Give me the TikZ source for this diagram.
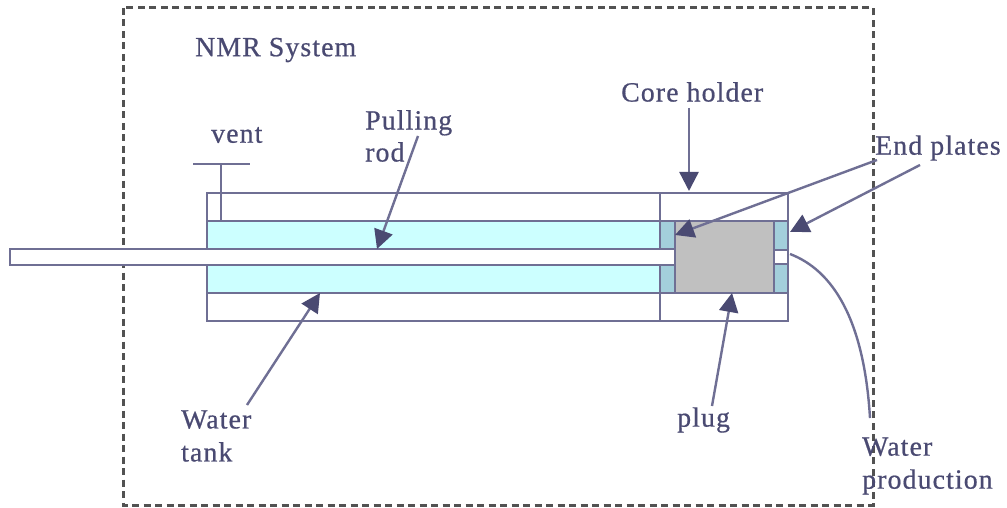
\documentclass[tikz,border=0pt]{standalone}
\usepackage{fontspec}
\setmainfont[LetterSpace=4,FakeBold=0.6]{Liberation Serif}
\usetikzlibrary{arrows.meta}
\definecolor{ink}{HTML}{4A4A72}
\definecolor{wall}{HTML}{6F6F94}
\definecolor{tankblue}{HTML}{CCFFFF}
\definecolor{plateblue}{HTML}{A3CFDB}
\definecolor{pluggray}{HTML}{C0C0C0}
\tikzset{
  part/.style={draw=wall,line width=2.8pt},
  lbl/.style={text=ink,font=\fontsize{27.8}{33}\selectfont,inner sep=0pt,align=left,anchor=west},
  pointer/.style={draw=wall,line width=2.4pt,-{Triangle[length=19pt,width=19pt,color=ink]}},
  frame/.style={draw=black!68,line width=3pt,dash pattern=on 7pt off 4.5pt}
}
\begin{document}
\begin{tikzpicture}[x=1pt,y=-1pt]
\useasboundingbox (0,0) rectangle (1007,508);
\fill[white] (0,0) rectangle (1007,508);
% frame
\draw[frame] (123,8) rectangle (873,505);
% parts
\draw[part] (207,193) rectangle (660,321);
\draw[part] (660,193) rectangle (788,321);
\draw[part,fill=tankblue] (207,221) rectangle (660,293);
\draw[part,fill=plateblue] (660,221) rectangle (675,293);
\draw[part,fill=plateblue] (774,221) rectangle (788,293);
\draw[part,fill=pluggray] (675,221) rectangle (774,293);
\draw[part,fill=white] (10,249) rectangle (675,265);
\draw[part,fill=white] (774,250) rectangle (788,264);
% vent
\coordinate (ventL) at (193,164);
\coordinate (ventR) at (250,164);
\coordinate (ventT) at (221,164);
\coordinate (ventB) at (221,221);
\draw[part] (ventL) -- (ventR);
\draw[part] (ventT) -- (ventB);
% labels
\node[lbl] (nmr) at (195,50) {NMR System};
\node[lbl] (ventlbl) at (211,135) {vent};
\node[lbl] (rodlbl) at (365,136) {Pulling\\[-1pt]rod};
\node[lbl] (corelbl) at (621,92) {Core holder};
\node[lbl] (platelbl) at (875,148) {End plates};
\node[lbl] (taplbl) at (181,436) {Water\\tank};
\node[lbl] (pluglbl) at (677,420) {plug};
\node[lbl] (prodlbl) at (862,466) {Water\\production};
% arrow targets
\coordinate (coreT) at (689,191);
\coordinate (coreS) at (689,108);
\coordinate (rodT) at (377,249);
\coordinate (rodS) at (418,136);
\coordinate (plS1) at (877,160);
\coordinate (plT1) at (675,235);
\coordinate (plS2) at (920,165);
\coordinate (plT2) at (790,232);
\coordinate (plugS) at (712,406);
\coordinate (plugT) at (732,293);
\coordinate (tankS) at (247,405);
\coordinate (tankT) at (320,293);
\coordinate (prodS) at (790,254);
\coordinate (prodT) at (870,418);
\draw[pointer] (coreS) -- (coreT);
\draw[pointer] (rodS) -- (rodT);
\draw[pointer] (plS1) -- (plT1);
\draw[pointer] (plS2) -- (plT2);
\draw[pointer] (plugS) -- (plugT);
\draw[pointer] (tankS) -- (tankT);
\draw[draw=wall,line width=2.4pt] (prodS) .. controls (832,270) and (864,318) .. (prodT);
\end{tikzpicture}
\end{document}
